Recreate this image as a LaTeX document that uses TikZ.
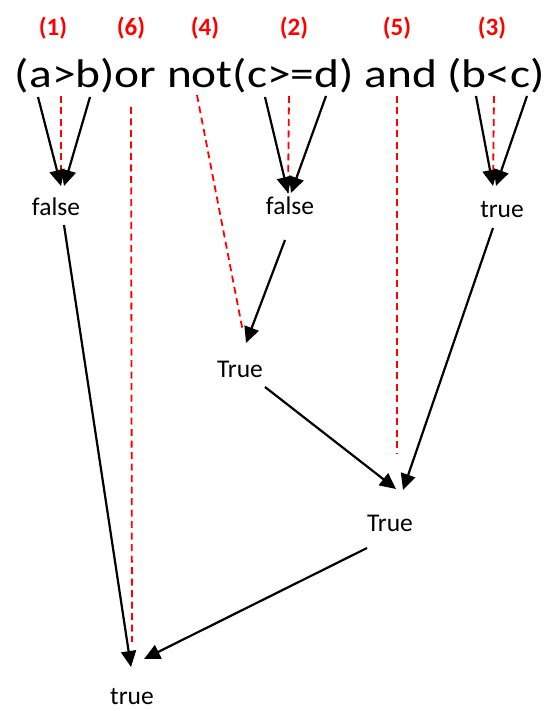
\documentclass[tikz,border=0pt]{standalone}
\usepackage{fontspec}
\setmainfont{Carlito}
\usetikzlibrary{arrows.meta}
\definecolor{redlab}{RGB}{255,0,0}
\tikzset{
  expr/.style={inner sep=0pt, font=\fontsize{40}{46}\selectfont, xscale=1.185},
  steplab/.style={inner sep=0pt, text=redlab, font=\fontsize{25}{29}\selectfont\bfseries},
  val/.style={inner sep=0pt, font=\fontsize{25.5}{30}\selectfont},
  arr/.style={line width=2.2pt, -{Triangle[length=16pt,width=15pt]}},
  reddash/.style={draw=redlab, line width=1.8pt, dash pattern=on 7pt off 4.5pt}
}
\begin{document}
\begin{tikzpicture}[x=1pt,y=-1pt]
\useasboundingbox (0,0) rectangle (558,711);
% red step labels
\node[steplab] (l1) at (53,28) {(1)};
\node[steplab] (l6) at (131,28) {(6)};
\node[steplab] (l4) at (205,28) {(4)};
\node[steplab] (l2) at (294,28) {(2)};
\node[steplab] (l5) at (397,28) {(5)};
\node[steplab] (l3) at (492,28) {(3)};
% expression
\node[expr, anchor=base] (ex) at (280,88) {(a>b)or not(c>=d) and (b<c)};
% values
\node[val] (f1) at (56,207) {false};
\node[val] (f2) at (290,206) {false};
\node[val] (t3) at (502,210) {true};
\node[val] (T1) at (240,369) {True};
\node[val] (T2) at (390,523) {True};
\node[val] (tf) at (132,697) {true};
% coordinates
\coordinate (a1) at (38,97);
\coordinate (b1) at (90,97);
\coordinate (k1) at (61,186);
\coordinate (k1b) at (64,186);
\coordinate (d1s) at (61,96);
\coordinate (c2) at (265,97);
\coordinate (e2) at (326,96);
\coordinate (k2) at (288,193);
\coordinate (k2b) at (291,193);
\coordinate (d2s) at (289,96);
\coordinate (b3) at (476,96);
\coordinate (c3) at (527,96);
\coordinate (k3) at (493,186);
\coordinate (k3b) at (496,186);
\coordinate (d3s) at (494,96);
\coordinate (n4s) at (197,95);
\coordinate (n4e) at (243,332);
\coordinate (d5s) at (397,96);
\coordinate (d5e) at (397,453);
\coordinate (d6s) at (131,107);
\coordinate (d6e) at (132,642);
\coordinate (f2s) at (285,240);
\coordinate (T1k) at (246,343);
\coordinate (t3s) at (493,228);
\coordinate (T2k) at (403,490);
\coordinate (T1s) at (265,387);
\coordinate (T2kb) at (396,489);
\coordinate (f1s) at (64,225);
\coordinate (tfk) at (131,667);
\coordinate (T2s) at (367,548);
\coordinate (tfkb) at (144,659);
% red dashed
\draw[reddash] (d1s) -- (k1);
\draw[reddash] (d2s) -- (k2);
\draw[reddash] (d3s) -- (k3);
\draw[reddash] (n4s) -- (n4e);
\draw[reddash] (d5s) -- (d5e);
\draw[reddash] (d6s) -- (d6e);
% arrows
\draw[arr] (a1) -- (k1);
\draw[arr] (b1) -- (k1b);
\draw[arr] (c2) -- (k2);
\draw[arr] (e2) -- (k2b);
\draw[arr] (b3) -- (k3);
\draw[arr] (c3) -- (k3b);
\draw[arr] (f2s) -- (T1k);
\draw[arr] (t3s) -- (T2k);
\draw[arr] (T1s) -- (T2kb);
\draw[arr] (f1s) -- (tfk);
\draw[arr] (T2s) -- (tfkb);
\end{tikzpicture}
\end{document}
